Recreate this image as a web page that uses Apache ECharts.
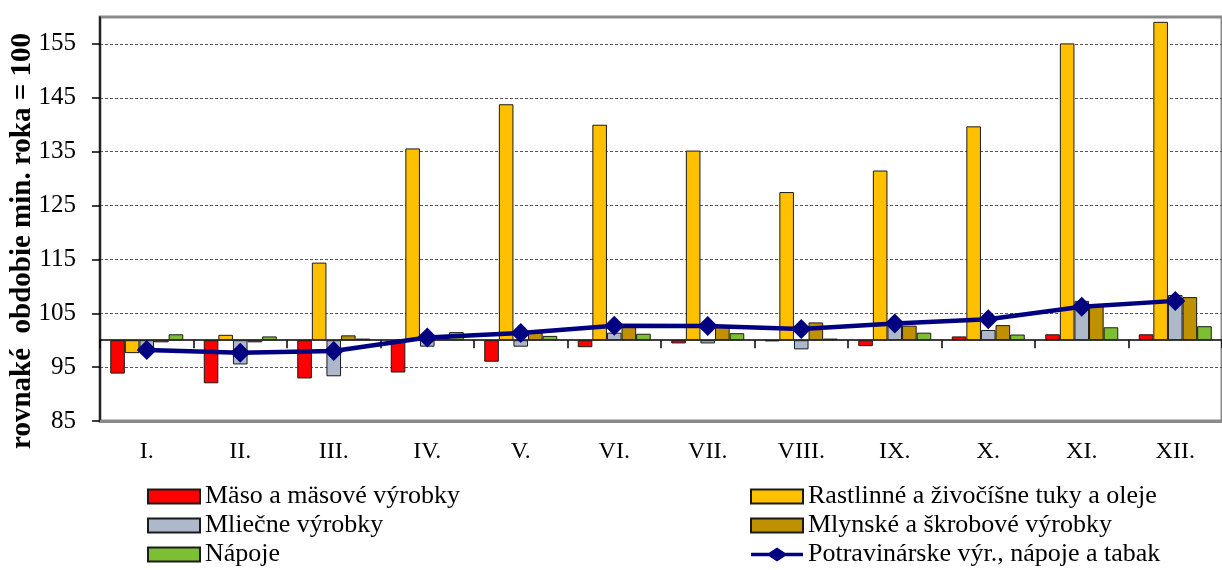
<!DOCTYPE html>
<html>
<head>
<meta charset="utf-8">
<script src="https://cdn.jsdelivr.net/npm/echarts@6/dist/echarts.min.js"></script>
<style>
  html, body { margin: 0; padding: 0; background: #fff; }
  #chart { width: 1222px; height: 570px; }
</style>
</head>
<body>
<div id="chart"></div>
<script>
// mesiace a indexy (rovnaké obdobie min. roka = 100)
const mesiace = ['I.', 'II.', 'III.', 'IV.', 'V.', 'VI.', 'VII.', 'VIII.', 'IX.', 'X.', 'XI.', 'XII.']
const maso = [93.8, 92.0, 92.9, 94.0, 96.0, 98.7, 99.4, 99.8, 98.9, 100.7, 101.1, 101.1]
const tuky = [97.6, 101.0, 114.4, 135.6, 143.8, 140.0, 135.2, 127.5, 131.5, 139.7, 155.1, 159.1]
const mliecne = [97.7, 95.5, 93.3, 98.8, 98.8, 101.4, 99.4, 98.3, 103.4, 101.9, 107.3, 108.4]
const mlynske = [99.6, 99.6, 100.9, 100.4, 101.4, 102.5, 102.5, 103.3, 102.7, 102.8, 106.4, 108.0]
const napoje = [101.1, 100.7, 100.3, 101.5, 100.8, 101.2, 101.3, 100.3, 101.4, 101.05, 102.4, 102.6]
const potraviny = [98.2, 97.65, 98.0, 100.5, 101.35, 102.7, 102.65, 102.1, 103.1, 103.9, 106.2, 107.3]

// stĺpce rastú od základu 100
const zaklad = 100
const odZakladu = arr => arr.map(v => +(v - zaklad).toFixed(2))
const ticky = [-15, -5, 5, 15, 25, 35, 45, 55]

const font = 'Liberation Serif'

const stlpec = (name, data, color) => ({
  name,
  type: 'bar',
  data: odZakladu(data),
  barWidth: 14.6,
  barGap: '0%',
  itemStyle: { color, borderColor: '#1a1a1a', borderWidth: 1 },
})

const legenda = (left, data) => ({
  orient: 'vertical',
  left,
  top: 482,
  padding: 0,
  itemGap: 0,
  itemWidth: 52,
  itemHeight: 14,
  textStyle: { fontFamily: font, fontSize: 26, color: '#000', lineHeight: 29 },
  data,
})

const chart = echarts.init(document.getElementById('chart'))

chart.setOption({
  animation: false,
  grid: {
    left: 100,
    top: 17,
    width: 1133,
    height: 404,
    show: true,
    borderColor: '#8a8a8a',
    borderWidth: 3,
  },
  legend: [
    legenda(147, [
      { name: 'Mäso a mäsové výrobky', icon: 'rect' },
      { name: 'Mliečne výrobky', icon: 'rect' },
      { name: 'Nápoje', icon: 'rect' },
    ]),
    legenda(750, [
      { name: 'Rastlinné a živočíšne tuky a oleje', icon: 'rect' },
      { name: 'Mlynské a škrobové výrobky', icon: 'rect' },
      {
        name: 'Potravinárske výr., nápoje a tabak',
        // čiara s kosoštvorcom
        icon: 'path://M0,5.2 H18 L26,0 L34,5.2 H52 V8.8 H34 L26,14 L18,8.8 H0 Z',
      },
    ]),
  ],
  xAxis: [
    {
      type: 'category',
      data: mesiace,
      position: 'bottom',
      axisLine: { onZero: false, lineStyle: { color: '#8a8a8a', width: 3 } },
      axisTick: { show: false },
      axisLabel: { margin: 19, fontSize: 24, fontFamily: font, color: '#000' },
    },
    {
      // čiara na úrovni 100
      type: 'category',
      data: mesiace,
      position: 'bottom',
      axisLine: { onZero: true, lineStyle: { color: '#000', width: 1.5 } },
      axisTick: { show: true, length: 8, lineStyle: { color: '#000', width: 1.5 } },
      axisLabel: { show: false },
    },
  ],
  yAxis: {
    type: 'value',
    min: -15,
    max: 60,
    interval: 10,
    axisLine: { show: true, lineStyle: { color: '#000', width: 1.5 } },
    axisTick: { show: true, length: 8, customValues: ticky, lineStyle: { color: '#000', width: 1.5 } },
    axisLabel: {
      margin: 24,
      fontSize: 25,
      fontFamily: font,
      color: '#000',
      formatter: v => (v === 60 ? '' : String(v + zaklad)),
    },
    splitLine: { lineStyle: { type: [3, 2], color: '#555', width: 1 } },
  },
  graphic: [
    {
      type: 'text',
      x: 23,
      y: 241,
      rotation: Math.PI / 2,
      style: {
        text: 'rovnaké  obdobie min. roka = 100',
        font: 'bold 29px "Liberation Serif"',
        fill: '#000',
        align: 'center',
        verticalAlign: 'middle',
      },
    },
  ],
  series: [
    stlpec('Mäso a mäsové výrobky', maso, '#ff0000'),
    stlpec('Rastlinné a živočíšne tuky a oleje', tuky, '#ffc000'),
    stlpec('Mliečne výrobky', mliecne, '#adb9ca'),
    stlpec('Mlynské a škrobové výrobky', mlynske, '#bf9000'),
    stlpec('Nápoje', napoje, '#7cbf33'),
    {
      name: 'Potravinárske výr., nápoje a tabak',
      type: 'line',
      data: odZakladu(potraviny),
      symbol: 'diamond',
      symbolSize: 20,
      z: 5,
      lineStyle: { color: '#000080', width: 4.5 },
      itemStyle: { color: '#000080' },
    },
  ],
})
</script>
</body>
</html>
